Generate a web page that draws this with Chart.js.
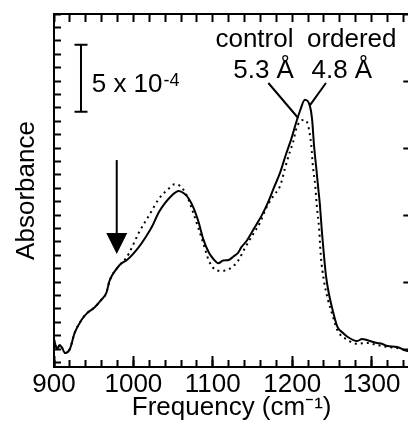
<!DOCTYPE html>
<html><head><meta charset="utf-8">
<script src="https://cdn.jsdelivr.net/npm/chart.js@4.4.1/dist/chart.umd.min.js"></script>
<style>html,body{margin:0;padding:0;overflow:hidden;background:#fff;width:408px;height:439px}canvas{display:block}</style>
</head><body><canvas id="c" width="414" height="439"></canvas>
<script>
// ordered (solid) spectrum, absorbance in units of 1e-4 (arbitrary offset)
const orderedFreq = [900,904,907,910,914,920,926,935,942,951,960,966,970,979,985,991,1004,1016,1024,1032,1040,1049,1057,1064,1070,1076,1082,1088,1095,1101,1107,1113,1120,1126,1132,1136,1143,1149,1155,1161,1170,1176,1185,1192,1199,1205,1210,1216,1222,1225,1227.5,1230,1232.5,1235,1237.5,1240,1242.5,1246,1251,1257,1264,1270,1282,1288,1295,1307,1313,1320,1332,1341,1348];
const orderedAbs  = [0.7,0.0,0.3,0.1,-0.3,0.0,1.2,2.2,2.7,3.1,3.7,4.2,5.1,6.0,6.4,6.6,7.4,8.4,9.2,10.2,10.9,11.5,11.8,11.6,11.2,10.5,9.5,8.2,7.2,6.7,6.4,6.6,6.65,6.9,7.2,7.6,8.1,8.7,9.3,9.9,11.0,11.9,13.2,14.5,15.7,16.9,17.8,18.6,18.2,17.2,15.2,13.7,12.2,10.7,8.7,7.0,5.5,4.2,2.9,1.65,1.2,0.9,0.6,0.75,0.65,0.45,0.4,0.22,0.15,-0.07,-0.2];
// control (dotted) spectrum
const controlFreq = [900,904,907,910,914,920,926,935,942,951,960,966,970,979,985,991,995,1007,1020,1032,1045,1052,1058,1066,1074,1082,1088,1095,1100,1105,1114,1124,1132,1141,1149,1160,1167,1176,1185,1191,1197,1201,1205,1210,1215,1220,1224,1226,1229,1231,1234,1236,1240,1245,1251,1257,1270,1282,1295,1307,1320,1332,1341,1348];
const controlAbs  = [0.7,0.0,0.3,0.1,-0.3,0.0,1.2,2.2,2.7,3.1,3.7,4.2,5.1,6.0,6.4,6.8,7.2,8.7,10.0,11.2,12.0,12.3,12.2,11.6,10.4,9.0,7.9,6.6,6.1,5.85,5.85,6.1,6.6,7.6,8.4,9.5,10.5,11.4,12.2,13.5,14.7,15.4,16.4,17.0,17.1,16.7,15.2,13.7,12.2,10.7,8.9,7.0,5.1,3.7,2.5,1.4,0.67,0.4,0.45,0.3,0.15,0.07,-0.07,-0.2];

const xTickLabels = [900,1000,1100,1200,1300];
const xMinorTicks = [900,920,940,960,980,1000,1020,1040,1060,1080,1100,1120,1140,1160,1180,1200,1220,1240,1260,1280,1300,1320,1340];
const yMinorTicks = [-1,0,1,2,3,4,5,6,7,8,9,10,11,12,13,14,15,16,17,18,19,20,21,22,23,24,25];
const yMajorTicks = [0,5,10,15,20,25];

const xLabel = 'Frequency (cm⁻¹)';
const yLabel = 'Absorbance';
const scaleText = '5 x 10';
const scaleExp = '-4';
const peakNames = ['control','ordered'];
const peakSpacings = ['5.3 Å','4.8 Å'];

const FONT = "'Liberation Sans', Arial, Helvetica, sans-serif";
Chart.defaults.font.family = FONT;
Chart.defaults.color = '#000';

const annot = {
  id: 'annot',
  afterDraw(chart) {
    const ctx = chart.ctx, xs = chart.scales.x, ys = chart.scales.y;
    const X = v => xs.getPixelForValue(v), Y = v => ys.getPixelForValue(v);
    ctx.save();
    ctx.strokeStyle = '#000'; ctx.fillStyle = '#000'; ctx.lineWidth = 2;
    // scale bar (5 units = 5e-4)
    const bx = X(934), by0 = Y(17.7), by1 = Y(22.7);
    ctx.beginPath();
    ctx.moveTo(bx, by0); ctx.lineTo(bx, by1);
    ctx.moveTo(bx - 6.5, by0); ctx.lineTo(bx + 6.5, by0);
    ctx.moveTo(bx - 6.5, by1); ctx.lineTo(bx + 6.5, by1);
    ctx.stroke();
    ctx.font = '26px ' + FONT; ctx.textAlign = 'left'; ctx.textBaseline = 'alphabetic';
    const tx = X(947.5), ty = Y(19.2);
    ctx.fillText(scaleText, tx, ty);
    const w = ctx.measureText(scaleText).width;
    ctx.font = '18px ' + FONT;
    ctx.fillText(scaleExp, tx + w + 1, ty - 6);
    // arrow
    const ax = X(979), aTop = Y(14.1), aBase = Y(8.66), aTip = Y(7.1);
    ctx.beginPath(); ctx.moveTo(ax, aTop); ctx.lineTo(ax, aBase); ctx.stroke();
    ctx.beginPath(); ctx.moveTo(ax - 10.5, aBase); ctx.lineTo(ax + 10.5, aBase); ctx.lineTo(ax, aTip); ctx.closePath(); ctx.fill();
    // pointer lines
    ctx.beginPath();
    ctx.moveTo(X(1170), Y(19.85)); ctx.lineTo(X(1207.5), Y(17.24));
    ctx.moveTo(X(1242.5), Y(19.85)); ctx.lineTo(X(1222.5), Y(18.2));
    ctx.stroke();
    // labels
    ctx.font = '26px ' + FONT; ctx.textAlign = 'center';
    ctx.fillText(peakNames[0], X(1152.5), Y(22.54));
    ctx.fillText(peakNames[1], X(1275), Y(22.54));
    ctx.fillText(peakSpacings[0], X(1164), Y(20.22));
    ctx.fillText(peakSpacings[1], X(1262.5), Y(20.22));
    ctx.restore();
  }
};

const XMIN = 900, XMAX = 1347.5, YMIN = -1.34, YMAX = 25;
const setTicks = arr => s => { s.ticks = arr.map(v => ({value: v})); };

new Chart(document.getElementById('c'), {
  type: 'line',
  data: {
    datasets: [
      { label: 'ordered 4.8 Å', data: orderedFreq.map((f, i) => ({x: f, y: orderedAbs[i]})),
        borderColor: '#000', borderWidth: 2, pointRadius: 0, fill: false,
        cubicInterpolationMode: 'monotone', xAxisID: 'x', yAxisID: 'y' },
      { label: 'control 5.3 Å', data: controlFreq.map((f, i) => ({x: f, y: controlAbs[i]})),
        borderColor: '#000', borderWidth: 2, borderDash: [2, 4], pointRadius: 0, fill: false,
        cubicInterpolationMode: 'monotone', xAxisID: 'x', yAxisID: 'y' }
    ]
  },
  options: {
    responsive: false, animation: false, devicePixelRatio: 1,
    layout: { padding: 0 },
    plugins: { legend: { display: false }, tooltip: { enabled: false } },
    scales: {
      x: { type: 'linear', position: 'bottom', min: XMIN, max: XMAX, weight: 1,
        afterBuildTicks: setTicks(xTickLabels), afterFit: s => { s.height = 72; },
        ticks: { autoSkip: false, maxRotation: 0, padding: 13, color: '#000', font: { size: 26 }, callback: v => String(v) },
        grid: { drawOnChartArea: false, tickLength: -11, tickWidth: 2, tickColor: '#000' },
        border: { display: true, color: '#000', width: 2 },
        title: { display: true, text: xLabel, color: '#000', font: { size: 26 }, padding: { top: 0, bottom: 16 } } },
      xMinor: { type: 'linear', position: 'bottom', min: XMIN, max: XMAX, weight: 0,
        afterBuildTicks: setTicks(xMinorTicks), afterFit: s => { s.height = 0; },
        ticks: { display: false },
        grid: { drawOnChartArea: false, tickLength: -7, tickWidth: 2, tickColor: '#000' },
        border: { display: false } },
      xTop: { type: 'linear', position: 'top', min: XMIN, max: XMAX,
        afterBuildTicks: setTicks(xMinorTicks), afterFit: s => { s.height = 14; },
        ticks: { display: false },
        grid: { drawOnChartArea: false, tickLength: -8, tickWidth: 2, tickColor: '#000' },
        border: { display: true, color: '#000', width: 2 } },
      y: { type: 'linear', position: 'left', min: YMIN, max: YMAX,
        afterBuildTicks: setTicks(yMinorTicks), afterFit: s => { s.width = 54; },
        ticks: { display: false },
        grid: { drawOnChartArea: false, tickLength: -7, tickWidth: 2, tickColor: '#000' },
        border: { display: true, color: '#000', width: 2 },
        title: { display: true, text: yLabel, color: '#000', font: { size: 26 }, padding: { top: 11, bottom: 0 } } },
      yRight: { type: 'linear', position: 'right', min: YMIN, max: YMAX,
        afterBuildTicks: setTicks(yMajorTicks), afterFit: s => { s.width = 2; },
        ticks: { display: false },
        grid: { drawOnChartArea: false, tickLength: -6, tickWidth: 2, tickColor: '#000' },
        border: { display: true, color: '#000', width: 2 } }
    }
  },
  plugins: [annot]
});
</script></body></html>
